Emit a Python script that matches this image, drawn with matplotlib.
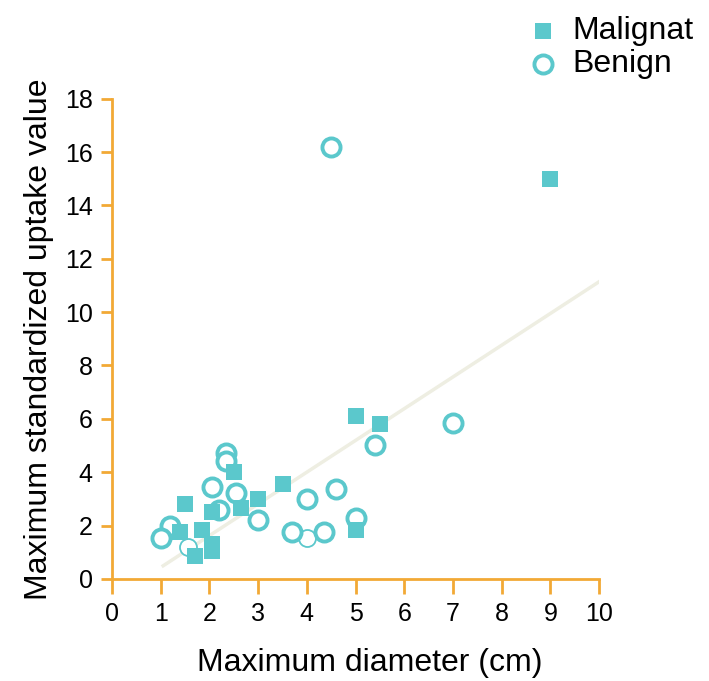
import matplotlib.pyplot as plt
import numpy as np

plt.rcParams['font.family'] = ['Liberation Sans', 'DejaVu Sans']

# malignant lesions (diameter cm, SUVmax)
mal_x = [9.0, 5.0, 5.5, 3.5, 3.0, 2.5, 2.65, 2.05, 1.5, 1.4, 1.85, 2.05, 2.05, 1.7, 5.0]
mal_y = [15.0, 6.1, 5.8, 3.55, 3.0, 4.0, 2.65, 2.5, 2.8, 1.75, 1.85, 1.3, 1.05, 0.85, 1.85]

# benign lesions
ben_x = [4.5, 7.0, 5.4, 2.35, 2.35, 2.05, 2.55, 2.2, 3.0, 4.0, 4.6, 5.0, 3.7, 4.35, 1.2, 1.0]
ben_y = [16.2, 5.85, 5.0, 4.7, 4.4, 3.45, 3.2, 2.6, 2.2, 3.0, 3.35, 2.3, 1.75, 1.75, 2.0, 1.55]
# two benign points drawn with a thin outline
ben_thin_x = [1.55, 4.0]
ben_thin_y = [1.2, 1.55]

# regression line
fit_x = [1.05, 10.0]
fit_slope = 1.19
fit_icpt = -0.76

teal = '#5bc8cc'
orange = '#f2a935'

fig = plt.figure(figsize=(7.09, 6.81), dpi=100)
ax = fig.add_axes([0.158, 0.15, 0.687, 0.705])

fx = np.array(fit_x)
ax.plot(fx, fit_slope * fx + fit_icpt, color='#eeeee2', lw=2.5, zorder=1)

ax.scatter(ben_thin_x, ben_thin_y, s=150, facecolors='white', edgecolors=teal,
           linewidths=1.3, zorder=2, clip_on=False)
ax.scatter(ben_x, ben_y, s=170, facecolors='white', edgecolors=teal,
           linewidths=2.8, zorder=3, clip_on=False, label='Benign')
ax.scatter(mal_x, mal_y, s=135, marker='s', color=teal, linewidths=0,
           zorder=4, clip_on=False, label='Malignat')

ax.set_xlim(0, 10)
ax.set_ylim(0, 18)
ax.set_xticks(range(0, 11))
ax.set_yticks(range(0, 19, 2))

for s in ['top', 'right']:
    ax.spines[s].set_visible(False)
for s in ['left', 'bottom']:
    ax.spines[s].set_color(orange)
    ax.spines[s].set_linewidth(2)
ax.tick_params(axis='x', colors=orange, width=2, length=11, labelcolor='black',
               labelsize=18, pad=6)
ax.tick_params(axis='y', colors=orange, width=2, length=8, labelcolor='black',
               labelsize=18, pad=6)

ax.set_xlabel('Maximum diameter (cm)', fontsize=23)
ax.xaxis.set_label_coords(0.53, -0.145)
ax.set_ylabel('Maximum standardized uptake value', fontsize=23, labelpad=8)

handles, labels = ax.get_legend_handles_labels()
fig.legend(handles[::-1], labels[::-1], loc='upper right', bbox_to_anchor=(1.0, 1.0),
           frameon=False, fontsize=23, handletextpad=0.3, labelspacing=0.1,
           borderaxespad=0.1, handlelength=1.2)

fig.savefig('out.png', dpi=100)
